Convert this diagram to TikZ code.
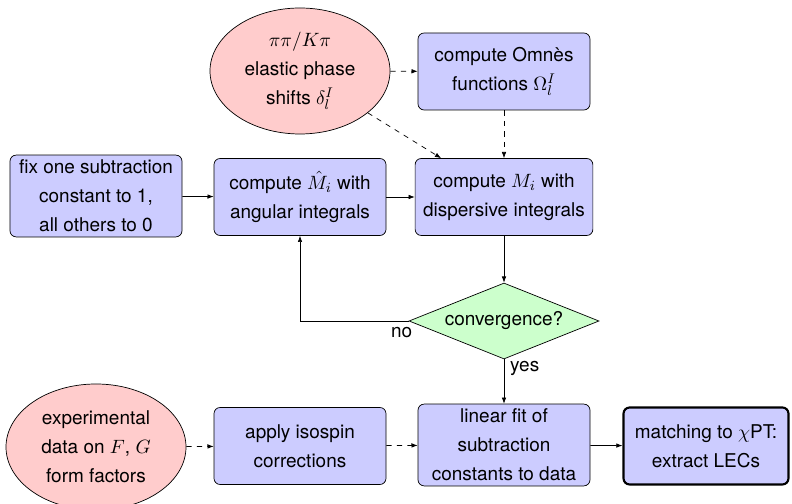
\documentclass[tikz,border=0pt]{standalone}
\usepackage{amsmath,amssymb}
\usepackage{fontspec}
\setmainfont{TeX Gyre Heros}
\usetikzlibrary{arrows.meta,positioning,shapes.geometric}

\begin{document}
\begin{tikzpicture}[
font=\fontsize{10.8}{16.4}\selectfont,
every node/.style={align=center},
box/.style={draw,rounded corners=3.5pt,fill=blue!20,minimum width=3.44cm,
  minimum height=1.54cm,inner xsep=0.16cm,inner ysep=0.1cm},
input/.style={draw,ellipse,fill=red!20,minimum width=3.6cm,minimum height=2.52cm,inner sep=0pt},
test/.style={draw,diamond,aspect=2.5,fill=green!20,minimum width=3.8cm,minimum height=1.52cm,inner sep=0pt},
result/.style={box,line width=1.2pt,minimum width=3.3cm},
arr/.style={-{Latex[length=3.5pt,width=2.6pt]}}]
\useasboundingbox (0,0) rectangle (15.84,10.08);
\node[input] (phase) at (6,8.66) {$\pi\pi/K\pi$\\elastic phase\\shifts $\delta_l^I$};
\node[box] (omnes) at (10.08,8.65) {compute Omnès\\functions $\Omega_l^I$};
\node[box] (fix) at (1.92,6.16) {fix one subtraction\\constant to 1,\\all others to 0};
\node[box] (Mhat) at (6,6.14) {compute $\hat M_i$ with\\angular integrals};
\node[box] (M) at (10.08,6.14) {compute $M_i$ with\\dispersive integrals};
\node[test] (conv) at (10.08,3.66) {convergence?};
\node[input] (exp) at (1.92,1.14) {experimental\\data on $F$, $G$\\form factors};
\node[box] (iso) at (6,1.16) {apply isospin\\corrections};
\node[box] (fit) at (10.08,1.18) {linear fit of\\subtraction\\constants to data};
\node[result] (lec) at (14.12,1.16) {matching to $\chi$PT:\\extract LECs};
% iteration
\draw[arr] (fix)--(Mhat);
\draw[arr] (Mhat)--(M);
\draw[arr] (M)--(conv);
\draw[arr] (conv.west) -| node[at start,below,xshift=-0.14cm] {no} (Mhat.south);
\draw[arr] (conv.south) -- node[pos=0.2,right] {yes} (fit.north);
\draw[arr] (fit)--(lec);
% inputs
\draw[arr,dashed] (phase)--(omnes);
\draw[arr,dashed] (phase)--(M);
\draw[arr,dashed] (omnes)--(M);
\draw[arr,dashed] (exp)--(iso);
\draw[arr,dashed] (iso)--(fit);
\end{tikzpicture}
\end{document}
